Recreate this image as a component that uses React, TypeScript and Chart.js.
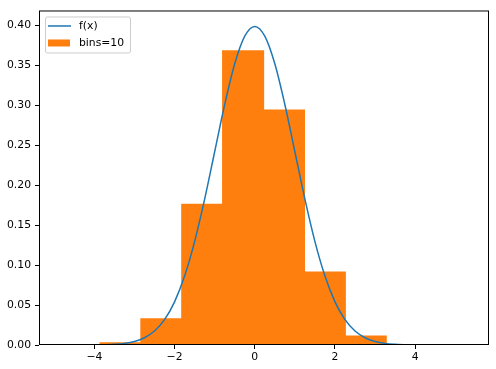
import React, { useEffect, useRef } from "react";
import { Chart, registerables } from "chart.js";

Chart.register(...registerables);

// Histogram (bins=10, density) — bin centers and heights
const binCenters = [-3.348, -2.329, -1.31, -0.291, 0.728, 1.747, 2.766];
const binHeights = [0.0034, 0.0335, 0.177, 0.369, 0.295, 0.092, 0.012];

// f(x) curve samples
const curveX = [
  -4.5, -4.25, -4.0, -3.75, -3.5, -3.25, -3.0, -2.75, -2.5, -2.25, -2.0, -1.75,
  -1.5, -1.25, -1.0, -0.75, -0.5, -0.25, 0.0, 0.25, 0.5, 0.75, 1.0, 1.25, 1.5,
  1.75, 2.0, 2.25, 2.5, 2.75, 3.0, 3.25, 3.5, 3.75, 4.0, 4.25, 4.5,
];
const curveY = [
  0.00002, 0.00005, 0.0001, 0.0004, 0.0009, 0.002, 0.0044, 0.0091, 0.0175,
  0.0317, 0.054, 0.0863, 0.1295, 0.1826, 0.242, 0.3011, 0.3521, 0.3867, 0.3989,
  0.3867, 0.3521, 0.3011, 0.242, 0.1826, 0.1295, 0.0863, 0.054, 0.0317, 0.0175,
  0.0091, 0.0044, 0.002, 0.0009, 0.0004, 0.0001, 0.00005, 0.00002,
];

const xTicks = [-4, -2, 0, 2, 4];
const yTicks = [0, 0.05, 0.1, 0.15, 0.2, 0.25, 0.3, 0.35, 0.4];

const lineLabel = "f(x)";
const barLabel = "bins=10";

const BLUE = "#1f77b4";
const ORANGE = "#ff7f0e";
const FONT_SIZE = 10.8;
const FONT = `${FONT_SIZE}px "DejaVu Sans"`;

const frameAndLegend = {
  id: "frameAndLegend",
  afterDraw(chart: any) {
    const { ctx, chartArea } = chart;
    const { left, right, top, bottom } = chartArea;
    ctx.save();
    // spines
    ctx.strokeStyle = "#000";
    ctx.lineWidth = 1;
    ctx.strokeRect(left + 0.5, top + 0.5, right - left - 1, bottom - top - 1);

    // legend
    const lx = left + 6.5;
    const ly = top + 6.5;
    const lw = 85;
    const lh = 36;
    const r = 2;
    ctx.beginPath();
    ctx.moveTo(lx + r, ly);
    ctx.lineTo(lx + lw - r, ly);
    ctx.arcTo(lx + lw, ly, lx + lw, ly + r, r);
    ctx.lineTo(lx + lw, ly + lh - r);
    ctx.arcTo(lx + lw, ly + lh, lx + lw - r, ly + lh, r);
    ctx.lineTo(lx + r, ly + lh);
    ctx.arcTo(lx, ly + lh, lx, ly + lh - r, r);
    ctx.lineTo(lx, ly + r);
    ctx.arcTo(lx, ly, lx + r, ly, r);
    ctx.closePath();
    ctx.fillStyle = "rgba(255,255,255,0.8)";
    ctx.fill();
    ctx.strokeStyle = "#cccccc";
    ctx.stroke();

    const ds = chart.data.datasets;
    // line entry
    ctx.strokeStyle = ds[0].borderColor;
    ctx.lineWidth = 1.5;
    ctx.beginPath();
    ctx.moveTo(left + 9, top + 15.5);
    ctx.lineTo(left + 32, top + 15.5);
    ctx.stroke();
    // bar entry
    ctx.fillStyle = ds[1].backgroundColor;
    ctx.fillRect(left + 9, top + 29, 22, 7);

    ctx.fillStyle = "#000";
    ctx.font = FONT;
    ctx.textBaseline = "middle";
    ctx.textAlign = "left";
    ctx.fillText(ds[0].label, left + 40, top + 15.5);
    ctx.fillText(ds[1].label, left + 40, top + 32.5);
    ctx.restore();
  },
};

export default function App() {
  const ref = useRef<HTMLCanvasElement | null>(null);

  useEffect(() => {
    document.body.style.margin = "0";
    const canvas = ref.current;
    if (!canvas) return;
    const chart = new Chart(canvas, {
      data: {
        datasets: [
          {
            type: "line",
            label: lineLabel,
            data: curveX.map((x, i) => ({ x, y: curveY[i] })),
            borderColor: BLUE,
            backgroundColor: BLUE,
            borderWidth: 1.5,
            pointRadius: 0,
            cubicInterpolationMode: "monotone",
            fill: false,
            order: 0,
          },
          {
            type: "bar",
            label: barLabel,
            data: binCenters.map((x, i) => ({ x, y: binHeights[i] })),
            backgroundColor: ORANGE,
            borderColor: ORANGE,
            borderWidth: 0,
            barPercentage: 1.03,
            categoryPercentage: 1,
            order: 1,
          },
        ],
      } as any,
      options: {
        responsive: false,
        animation: false,
        layout: { padding: { left: 0, top: 7, right: 7, bottom: 0 } },
        plugins: {
          legend: { display: false },
          tooltip: { enabled: false },
        },
        scales: {
          x: {
            type: "linear",
            min: -5.38,
            max: 5.84,
            offset: false,
            afterBuildTicks: (s: any) => {
              s.ticks = xTicks.map((v) => ({ value: v }));
            },
            afterFit: (s: any) => {
              s.height = 24;
            },
            grid: {
              display: true,
              offset: false,
              drawOnChartArea: false,
              drawTicks: true,
              tickLength: 4,
              tickColor: "#000",
              tickWidth: 1,
            },
            border: { display: false },
            ticks: {
              color: "#000",
              font: { family: "DejaVu Sans", size: FONT_SIZE },
              padding: 2,
              maxRotation: 0,
              callback: (v: any) => String(v).replace("-", "\u2212"),
            },
          },
          y: {
            type: "linear",
            min: 0,
            max: 0.41888,
            afterBuildTicks: (s: any) => {
              s.ticks = yTicks.map((v) => ({ value: v }));
            },
            afterFit: (s: any) => {
              s.width = 39;
            },
            grid: {
              display: true,
              offset: false,
              drawOnChartArea: false,
              drawTicks: true,
              tickLength: 4,
              tickColor: "#000",
              tickWidth: 1,
            },
            border: { display: false },
            ticks: {
              color: "#000",
              font: { family: "DejaVu Sans", size: FONT_SIZE },
              padding: 4,
              callback: (v: any) => Number(v).toFixed(2),
            },
          },
        },
      },
      plugins: [frameAndLegend],
    });
    return () => chart.destroy();
  }, []);

  return (
    <div style={{ position: "absolute", left: 0, top: 0, width: 496, height: 369, background: "#fff" }}>
      <canvas ref={ref} width={496} height={369} style={{ display: "block" }} />
    </div>
  );
}
